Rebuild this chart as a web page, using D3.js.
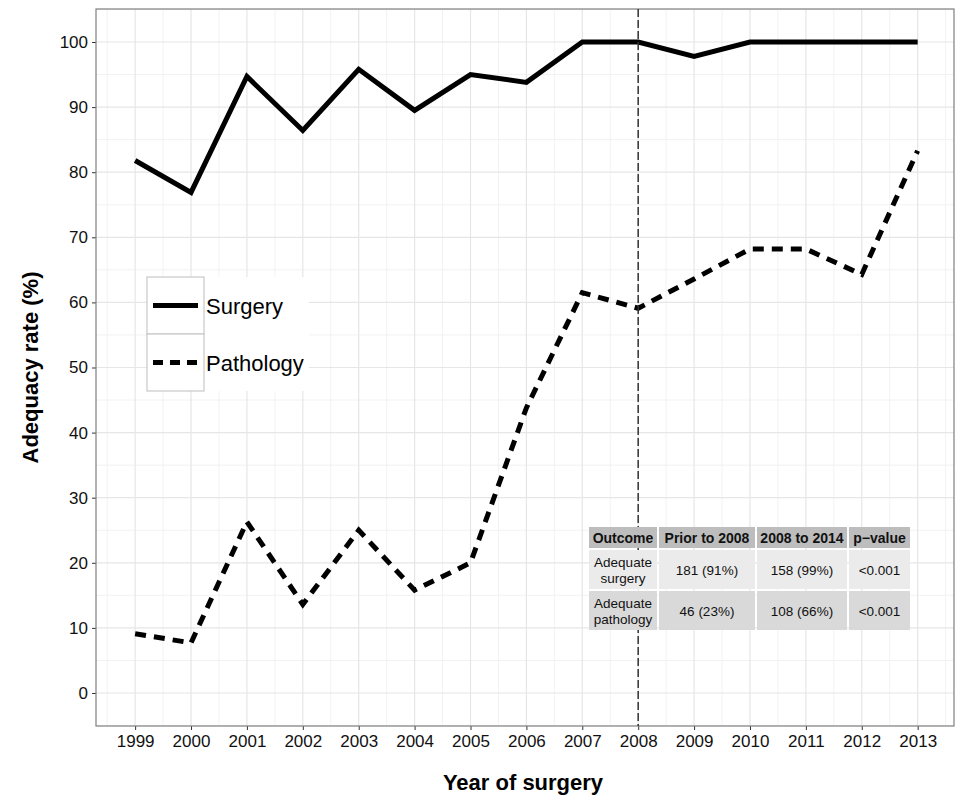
<!DOCTYPE html>
<html>
<head>
<meta charset="utf-8">
<script src="https://cdn.jsdelivr.net/npm/d3@7"></script>
<style>
  body { margin: 0; background: #fff; }
  svg text { font-family: "Liberation Sans", Arial, sans-serif; }
</style>
</head>
<body>
<svg id="chart" width="957" height="798"></svg>
<script>
var years = [1999, 2000, 2001, 2002, 2003, 2004, 2005, 2006, 2007, 2008, 2009, 2010, 2011, 2012, 2013];
var surgery = [81.8, 76.9, 94.7, 86.4, 95.8, 89.5, 95.0, 93.8, 100, 100, 97.8, 100, 100, 100, 100];
var pathology = [9.1, 7.7, 26.3, 13.6, 25.0, 15.8, 20.0, 43.8, 61.5, 59.1, 63.6, 68.2, 68.2, 64.3, 83.3];
var yTicks = [0, 10, 20, 30, 40, 50, 60, 70, 80, 90, 100];
var cutYear = 2008;

var tableHeader = ["Outcome", "Prior to 2008", "2008 to 2014", "p\u2212value"];
var tableRows = [
  [["Adequate", "surgery"], ["181 (91%)"], ["158 (99%)"], ["<0.001"]],
  [["Adequate", "pathology"], ["46 (23%)"], ["108 (66%)"], ["<0.001"]]
];
var legendLabels = ["Surgery", "Pathology"];

var svg = d3.select("#chart");
var panel = {left: 96, top: 9, right: 954, bottom: 726};

var x = d3.scaleLinear().domain([1998.3, 2013.65]).range([panel.left, panel.right]);
var y = d3.scaleLinear().domain([-5.07, 105.07]).range([panel.bottom, panel.top]);

// grid
var g = svg.append("g");
var minorY = d3.range(-5, 106, 5).filter(function(v) { return v % 10 != 0; });
var minorX = years.slice(0, -1).map(function(v) { return v + 0.5; }).concat([1998.5, 2013.5]);
g.selectAll(".minx").data(minorX).enter().append("line")
  .attr("x1", x).attr("x2", x).attr("y1", panel.top).attr("y2", panel.bottom)
  .attr("stroke", "#f2f2f2").attr("stroke-width", 1);
g.selectAll(".miny").data(minorY).enter().append("line")
  .attr("y1", y).attr("y2", y).attr("x1", panel.left).attr("x2", panel.right)
  .attr("stroke", "#f2f2f2").attr("stroke-width", 1);
g.selectAll(".majx").data(years).enter().append("line")
  .attr("x1", x).attr("x2", x).attr("y1", panel.top).attr("y2", panel.bottom)
  .attr("stroke", "#e6e6e6").attr("stroke-width", 1.2);
g.selectAll(".majy").data(yTicks).enter().append("line")
  .attr("y1", y).attr("y2", y).attr("x1", panel.left).attr("x2", panel.right)
  .attr("stroke", "#e6e6e6").attr("stroke-width", 1.2);

// axes
var xAxis = d3.axisBottom(x).tickValues(years).tickFormat(d3.format("d")).tickSize(4).tickPadding(5);
var yAxis = d3.axisLeft(y).tickValues(yTicks).tickSize(4).tickPadding(4);
var xg = svg.append("g").attr("transform", "translate(0," + panel.bottom + ")").call(xAxis);
var yg = svg.append("g").attr("transform", "translate(" + panel.left + ",0)").call(yAxis);
[xg, yg].forEach(function(a) {
  a.select(".domain").remove();
  a.selectAll(".tick line").attr("stroke", "#333");
  a.selectAll(".tick text").attr("font-size", 17).attr("fill", "#111")
    .style("font-family", "'Liberation Sans', Arial, sans-serif");
});

// panel border
svg.append("rect").attr("x", panel.left).attr("y", panel.top)
  .attr("width", panel.right - panel.left).attr("height", panel.bottom - panel.top)
  .attr("fill", "none").attr("stroke", "#7f7f7f").attr("stroke-width", 1.2);

// lines
var line = d3.line().x(function(d, i) { return x(years[i]); }).y(function(d) { return y(d); });
svg.append("path").datum(surgery).attr("d", line)
  .attr("fill", "none").attr("stroke", "#000").attr("stroke-width", 5);
svg.append("path").datum(pathology).attr("d", line)
  .attr("fill", "none").attr("stroke", "#000").attr("stroke-width", 5)
  .attr("stroke-dasharray", "11,8");

// cut line
svg.append("line").attr("x1", x(cutYear)).attr("x2", x(cutYear))
  .attr("y1", panel.top).attr("y2", panel.bottom)
  .attr("stroke", "#333").attr("stroke-width", 1.5).attr("stroke-dasharray", "8,3");

// legend
var lg = svg.append("g").attr("transform", "translate(147,277)");
lg.append("rect").attr("x", 0).attr("y", 0).attr("width", 162).attr("height", 114).attr("fill", "#fff");
legendLabels.forEach(function(lab, i) {
  var k = lg.append("g").attr("transform", "translate(0," + (i * 57) + ")");
  k.append("rect").attr("width", 57).attr("height", 57).attr("fill", "#fff")
    .attr("stroke", "#c8c8c8").attr("stroke-width", 1.2);
  k.append("line").attr("x1", 6).attr("x2", 51).attr("y1", 28.5).attr("y2", 28.5)
    .attr("stroke", "#000").attr("stroke-width", 5)
    .attr("stroke-dasharray", i == 1 ? "10,7" : null);
  k.append("text").attr("x", 59).attr("y", 36.5).attr("font-size", 22).attr("fill", "#000").text(lab);
});

// table
var colX = [589, 659, 757, 849, 912];
var rowY = [527, 550, 591, 632];
var rowFill = ["#bdbdbd", "#ebebeb", "#d9d9d9"];
var tg = svg.append("g");
var allRows = [tableHeader.map(function(h) { return [h]; })].concat(tableRows);
allRows.forEach(function(row, r) {
  row.forEach(function(cell, c) {
    var x0 = colX[c], x1 = colX[c + 1], y0 = rowY[r], y1 = rowY[r + 1];
    tg.append("rect").attr("x", x0).attr("y", y0)
      .attr("width", x1 - x0 - 2).attr("height", y1 - y0 - 2).attr("fill", rowFill[r]);
    var cy = (y0 + y1 - 2) / 2;
    cell.forEach(function(t, j) {
      tg.append("text").attr("x", (x0 + x1 - 2) / 2)
        .attr("y", cy + (j - (cell.length - 1) / 2) * 16 + 5)
        .attr("text-anchor", "middle").attr("font-size", r == 0 ? 14 : 13.5)
        .attr("font-weight", r == 0 ? "bold" : "normal").attr("fill", "#111").text(t);
    });
  });
});

// axis titles
svg.append("text").attr("x", (panel.left + panel.right) / 2 - 2).attr("y", 790)
  .attr("text-anchor", "middle").attr("font-size", 22).attr("font-weight", "bold").text("Year of surgery");
svg.append("text").attr("transform", "translate(38," + ((panel.top + panel.bottom) / 2) + ") rotate(-90)")
  .attr("text-anchor", "middle").attr("font-size", 22).attr("font-weight", "bold").text("Adequacy rate (%)");
</script>
</body>
</html>
